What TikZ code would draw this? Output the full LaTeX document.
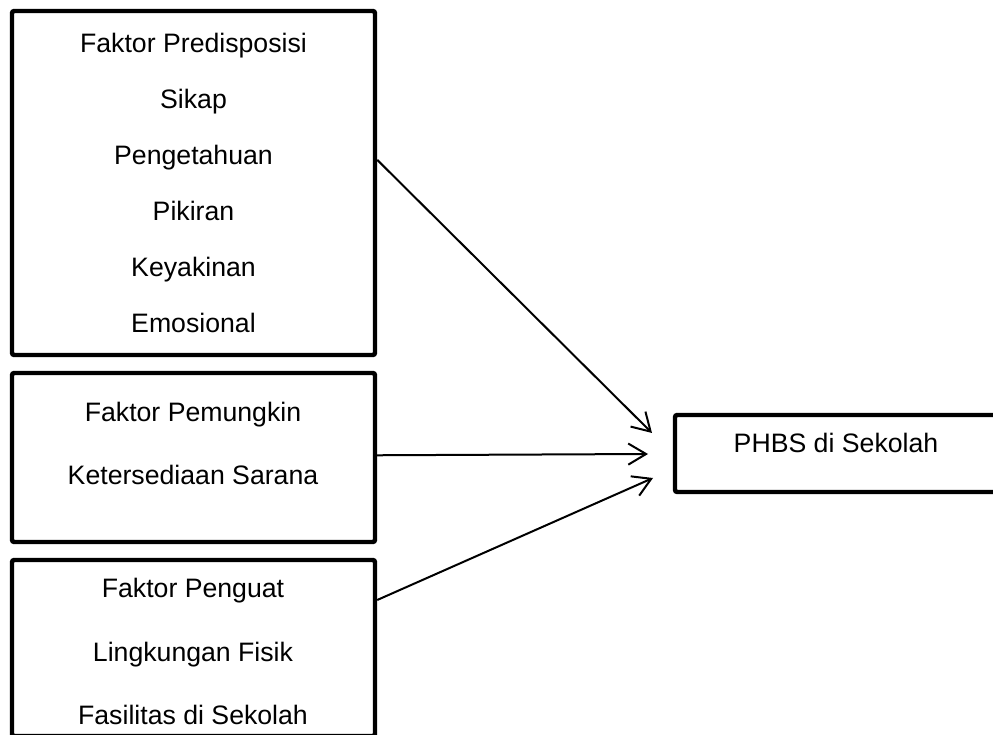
\documentclass[tikz,border=0pt]{standalone}
\usepackage{fontspec}
\setmainfont{Liberation Sans}
\usetikzlibrary{positioning, arrows.meta, fit}

\begin{document}
\begin{tikzpicture}[
  x=0.45pt, y=-0.45pt,
  every node/.style={font=\fontsize{12}{14}\selectfont, text=black},
  kotak/.style={
    draw=black,
    line width=2pt,
    rounded corners=1pt,
    inner sep=0pt,
  },
  isi/.style={
    align=center,
    inner sep=0pt,
  },
  panah/.style={
    -{Straight Barb[length=8pt, width=9.5pt]},
    line width=0.9pt,
    draw=black,
  },
]
  \fill[white] (0,0) rectangle (993,735);
  \useasboundingbox (0,0) rectangle (993,735);

  % kotak faktor
  \node[kotak, fit={(12,11) (375,355)}] (predisposisi) {};
  \node[kotak, fit={(12,373) (375,542)}] (pemungkin) {};
  \node[kotak, fit={(12,560) (375,736)}] (penguat) {};
  \node[kotak, fit={(675,415) (1000,492)}] (phbs) {};

  % isi kotak
  \node[isi, font=\fontsize{12}{25.2}\selectfont] (tekspredisposisi) at (193.5,183)
    {Faktor Predisposisi\\Sikap\\Pengetahuan\\Pikiran\\Keyakinan\\Emosional};
  \node[isi, font=\fontsize{12}{28.4}\selectfont] (tekspemungkin) at (193,443.5)
    {Faktor Pemungkin\\Ketersediaan Sarana};
  \node[isi, font=\fontsize{12}{28.4}\selectfont] (tekspenguat) at (193,651.5)
    {Faktor Penguat\\Lingkungan Fisik\\Fasilitas di Sekolah};
  \node[isi] (teksphbs) at (836,443) {PHBS di Sekolah};

  % ujung panah
  \coordinate (masuk1) at (652,433);
  \coordinate (masuk2) at (648,454);
  \coordinate (masuk3) at (653,478);

  \draw[panah] ([yshift=10.4pt]predisposisi.east) -- (masuk1);
  \draw[panah] ([yshift=1pt]pemungkin.east) -- (masuk2);
  \draw[panah] ([yshift=21.6pt]penguat.east) -- (masuk3);
\end{tikzpicture}
\end{document}
